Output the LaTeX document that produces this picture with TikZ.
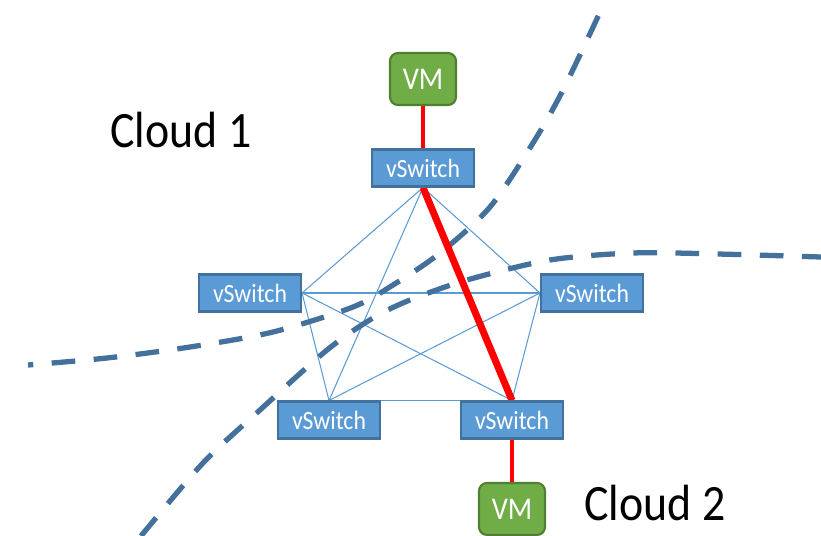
\documentclass[tikz,border=0pt]{standalone}
\usepackage{fontspec}
\setmainfont{Carlito}[FakeStretch=0.9]
\usetikzlibrary{positioning, backgrounds}

\definecolor{switchblue}{HTML}{5B9BD5}
\definecolor{switchedge}{HTML}{41719C}
\definecolor{vmgreen}{HTML}{70AD47}
\definecolor{vmedge}{HTML}{507E32}
\definecolor{cutblue}{HTML}{44719C}

\begin{document}
\begin{tikzpicture} [x = 0.02cm, y = -0.02cm, node distance = 1.78cm, on grid,
    vswitch/.style = {draw = switchedge, line width = 1.2pt, fill = switchblue, text = white,
        minimum width = 2.04cm, minimum height = 0.74cm, inner sep = 0pt,
        font = \fontsize{15}{16}\selectfont},
    vm/.style = {draw = vmedge, line width = 1.2pt, fill = vmgreen, text = white, rounded corners = 0.16cm,
        minimum width = 1.32cm, minimum height = 1.04cm, inner sep = 0pt,
        font = \fontsize{18}{19}\selectfont},
    mesh/.style = {switchblue, line width = 0.6pt},
    cut/.style = {cutblue, line width = 3pt, dash pattern = on 13.5pt off 10.5pt},
    cloud/.style = {font = \fontsize{29}{31}\selectfont}]
    \useasboundingbox (0,0) rectangle (821,536);

    \node (s1) [vswitch] at (423,168) {vSwitch};
    \node (s2) [vswitch] at (250,293) {vSwitch};
    \node (s3) [vswitch] at (592,293) {vSwitch};
    \node (s4) [vswitch] at (329,420) {vSwitch};
    \node (s5) [vswitch] at (512,420) {vSwitch};
    \node (vm1) [vm, above = of s1] {VM};
    \node (vm2) [vm, below = of s5] {VM};

    \node (c1) [cloud] at (181,130) {Cloud 1};
    \node (c2) [cloud] at (655,503) {Cloud 2};

    \begin{scope}[on background layer]
        % full mesh between the switches
        \foreach \a/\b in {s1.south/s2.east, s1.south/s3.west, s1.south/s4.north,
                           s2.east/s3.west, s2.east/s4.north, s2.east/s5.north,
                           s3.west/s4.north, s3.west/s5.north, s4.north/s5.north}
            \draw[mesh] (\a) -- (\b);

        % border of cloud 1
        \draw[cut, dash phase = 10.5pt] plot[smooth, tension = 0.5] coordinates {(28,365) (107,358)
            (190,347) (273,332) (353,307) (393,285) (440,253) (490,207) (533,143) (563,90) (602,8)};
        % border of cloud 2
        \draw[cut] plot[smooth, tension = 0.5] coordinates {(141,536) (203,463) (260,410) (327,350)
            (373,318) (410,300) (467,280) (550,260) (633,253) (717,254) (821,257)};

        \draw[red, line width = 4pt] (s1.south) -- (s5.north);
    \end{scope}

    \path[red, line width = 1.8pt] (vm1) edge (s1)
                                   (s5) edge (vm2);
\end{tikzpicture}
\end{document}
